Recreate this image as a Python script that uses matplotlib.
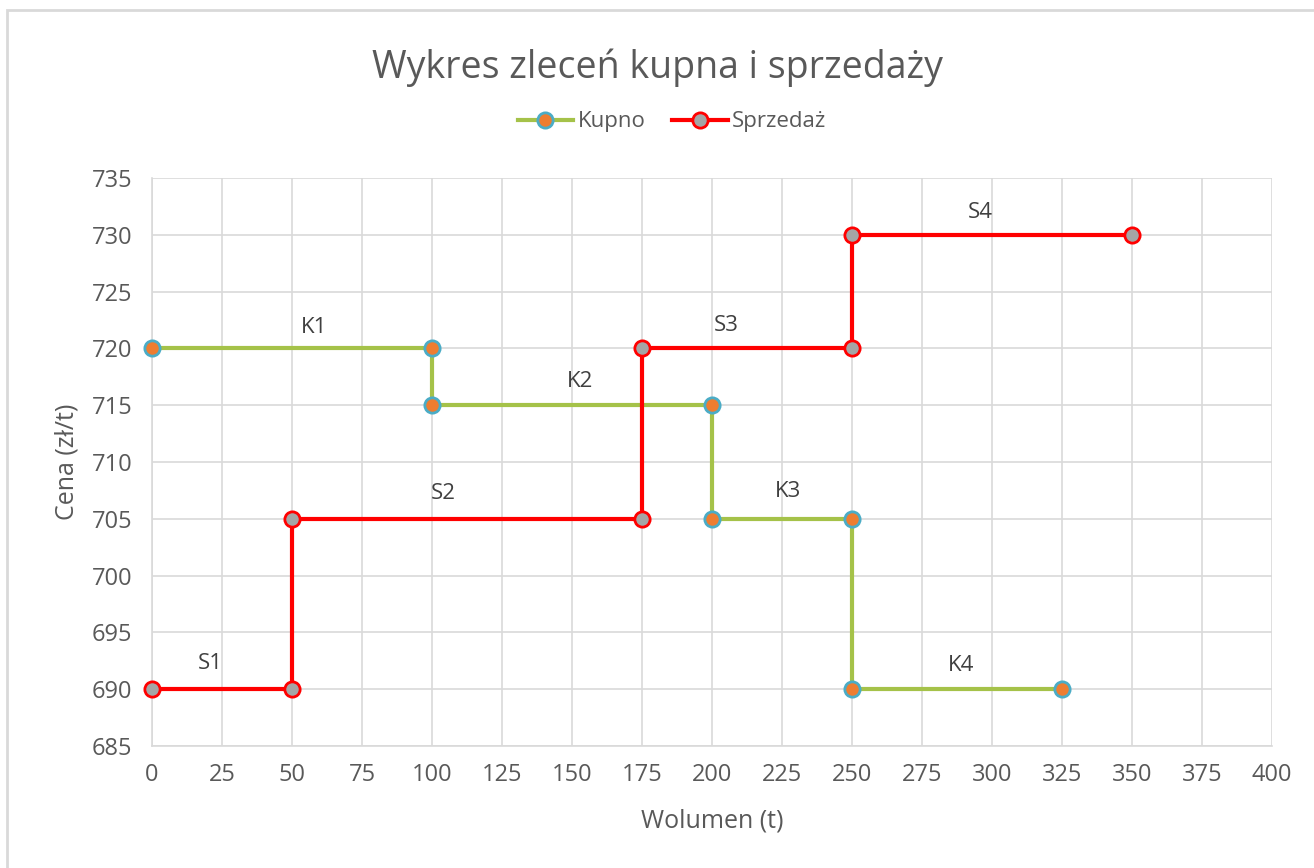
import matplotlib.pyplot as plt
from matplotlib.patches import Rectangle

# Buy orders (Kupno) - step curve
kupno_x = [0, 100, 100, 200, 200, 250, 250, 325]
kupno_y = [720, 720, 715, 715, 705, 705, 690, 690]

# Sell orders (Sprzedaż) - step curve
sprzedaz_x = [0, 50, 50, 175, 175, 250, 250, 350]
sprzedaz_y = [690, 690, 705, 705, 720, 720, 730, 730]

# Segment labels
labels = ['K1', 'K2', 'K3', 'K4', 'S1', 'S2', 'S3', 'S4']
label_x = [58, 153, 227, 289, 21, 104, 205, 296]
label_y = [721.8, 717.1, 707.4, 692.1, 692.3, 707.2, 722.0, 732.0]

x_ticks = list(range(0, 401, 25))
y_ticks = list(range(685, 736, 5))

plt.rcParams['font.family'] = ['Open Sans', 'DejaVu Sans']
text_col = '#595959'
grid_col = '#d9d9d9'

fig = plt.figure(figsize=(13.14, 8.68), dpi=100)
ax = fig.add_axes([152 / 1314, 122 / 868, 1120 / 1314, 568 / 868])

# outer chart border
fig.patches.append(Rectangle((7 / 1314, -0.05), 1.1, 1 - 10 / 868 + 0.05,
                             transform=fig.transFigure, fill=False,
                             edgecolor=grid_col, lw=2))

ax.plot(kupno_x, kupno_y, color='#a5c249', lw=3, marker='o', markersize=11,
        markerfacecolor='#ed7d31', markeredgecolor='#4bacc6', markeredgewidth=2,
        label='Kupno', zorder=3, clip_on=False)
ax.plot(sprzedaz_x, sprzedaz_y, color='#ff0000', lw=3, marker='o', markersize=11,
        markerfacecolor='#a5a5a5', markeredgecolor='#ff0000', markeredgewidth=2,
        label='Sprzedaż', zorder=3, clip_on=False)

for lab, lx, ly in zip(labels, label_x, label_y):
    ax.text(lx, ly, lab, ha='center', va='center', fontsize=16, color='#404040')

ax.set_xlim(0, 400)
ax.set_ylim(685, 735)
ax.set_xticks(x_ticks)
ax.set_yticks(y_ticks)
ax.grid(True, color=grid_col, lw=1.2)
ax.set_axisbelow(True)
for s in ['top', 'right']:
    ax.spines[s].set_visible(False)
for s in ['left', 'bottom']:
    ax.spines[s].set_color(grid_col)
    ax.spines[s].set_linewidth(1.2)
ax.tick_params(length=0, labelsize=17, labelcolor=text_col)
ax.tick_params(axis='x', pad=12)
ax.tick_params(axis='y', pad=14)

ax.set_xlabel('Wolumen (t)', fontsize=18, color=text_col, labelpad=16)
ax.set_ylabel('Cena (zł/t)', fontsize=18, color=text_col, labelpad=9)

fig.text(0.5, 1 - 68 / 868, 'Wykres zleceń kupna i sprzedaży', ha='center',
         va='center', fontsize=27, color=text_col)
fig.legend(loc='center', bbox_to_anchor=(672 / 1314, 1 - 122 / 868), ncol=2,
           frameon=False, fontsize=16, labelcolor=text_col, handlelength=2.5,
           columnspacing=1.2, handletextpad=0.2)

fig.savefig('out.png', dpi=100)
